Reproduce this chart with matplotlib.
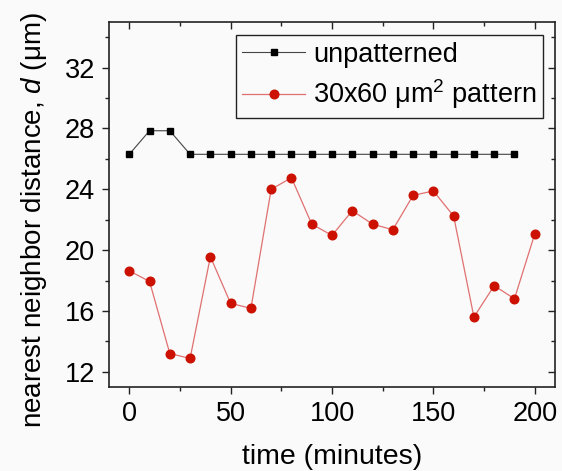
import matplotlib
matplotlib.use("Agg")
import matplotlib.pyplot as plt
from matplotlib.ticker import MultipleLocator, FormatStrFormatter

plt.rcParams['font.family'] = ['Liberation Sans', 'DejaVu Sans']
plt.rcParams['mathtext.fontset'] = 'custom'
plt.rcParams['mathtext.rm'] = 'Liberation Sans'
plt.rcParams['mathtext.it'] = 'Liberation Sans:italic'

time_unpat = [0, 10, 20, 30, 40, 50, 60, 70, 80, 90, 100, 110, 120, 130, 140, 150, 160, 170, 180, 190]
d_unpat = [26.3, 27.85, 27.85, 26.3, 26.3, 26.3, 26.3, 26.3, 26.3, 26.3,
           26.3, 26.3, 26.3, 26.3, 26.3, 26.3, 26.3, 26.3, 26.3, 26.3]
time_pat = [0, 10, 20, 30, 40, 50, 60, 70, 80, 90, 100, 110, 120, 130, 140, 150, 160, 170, 180, 190, 200]
d_pat = [18.64, 17.94, 13.2, 12.88, 19.57, 16.5, 16.17, 24.0, 24.76, 21.71, 20.97,
         22.59, 21.71, 21.34, 23.6, 23.89, 22.24, 15.6, 17.66, 16.8, 21.06]

W, H = 562, 471
bg = '#fafafa'
fs = 19.5
fig = plt.figure(figsize=(W/100, H/100), dpi=100, facecolor=bg)
ax = fig.add_axes([109/W, 1-387/H, (555-109)/W, (387-22)/H], facecolor=bg)

ax.plot(time_unpat, d_unpat, color='#444444', lw=0.8, marker='s', ms=4.8,
        mfc='black', mec='black', label='unpatterned')
ax.plot(time_pat, d_pat, color='#e07070', lw=0.9, marker='o', ms=6.2,
        mfc='#cc1100', mec='#cc1100', label=r'30x60 $\mathrm{\mu m^2}$ pattern')

ax.set_xlim(-10, 210)
ax.set_ylim(11, 35)
ax.xaxis.set_major_locator(MultipleLocator(50))
ax.xaxis.set_minor_locator(MultipleLocator(25))
ax.yaxis.set_major_locator(MultipleLocator(4))
ax.yaxis.set_minor_locator(MultipleLocator(2))
ax.yaxis.set_major_formatter(FormatStrFormatter('%d'))

ax.tick_params(axis='both', which='both', labelsize=fs, width=1.0, color='#222222')
ax.tick_params(axis='both', which='major', length=5, pad=5)
ax.tick_params(axis='both', which='minor', length=3)
ax.tick_params(axis='x', which='both', direction='out', top=True)
ax.tick_params(axis='y', which='both', direction='out', right=True)
for t in ax.xaxis.get_major_ticks() + ax.xaxis.get_minor_ticks():
    t.tick2line.set_marker(3)  # inward on top
for t in ax.yaxis.get_major_ticks() + ax.yaxis.get_minor_ticks():
    t.tick2line.set_marker(0)  # inward on right

for s in ax.spines.values():
    s.set_linewidth(1.2)
    s.set_color('#222222')

ax.set_xlabel('time (minutes)', fontsize=20.5, labelpad=12)
ax.set_ylabel(r'nearest neighbor distance, $d$ ($\mathrm{\mu m}$)', fontsize=20)
ax.yaxis.label.set_va('center')
ax.yaxis.set_label_coords(34/W, 1-220/H, transform=fig.transFigure)

leg = ax.legend(loc='upper right', bbox_to_anchor=(543/W, 1-35/H),
                bbox_transform=fig.transFigure, fontsize=19.5,
                frameon=True, fancybox=False, edgecolor='#222222', framealpha=1,
                facecolor=bg, handlelength=2.3, handletextpad=0.3, borderpad=0.25,
                labelspacing=0.35, borderaxespad=0)
leg.get_frame().set_linewidth(1.0)

fig.savefig('out.png', dpi=100, facecolor=bg)
